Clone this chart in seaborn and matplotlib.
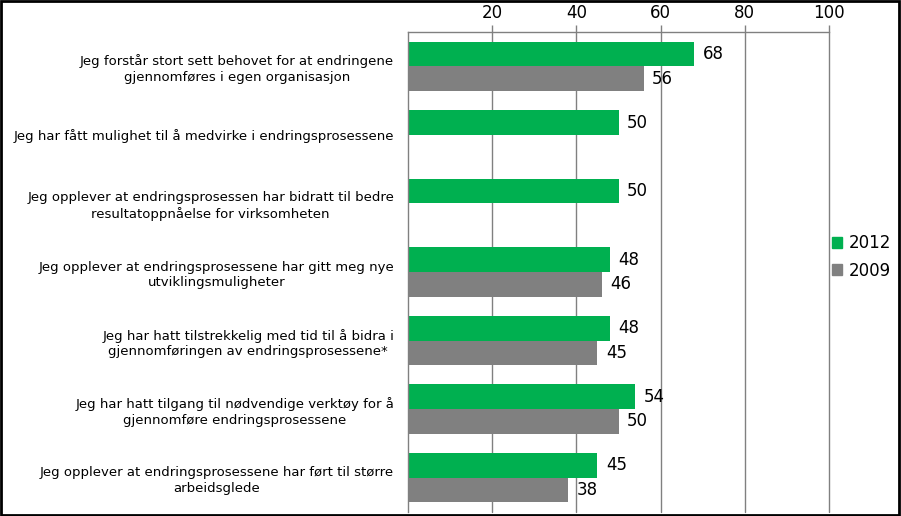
import matplotlib
matplotlib.use("Agg")
import matplotlib.pyplot as plt
import seaborn as sns
import pandas as pd
import numpy as np
from matplotlib.patches import Rectangle
from matplotlib.ticker import FixedLocator

categories = [
    "Jeg forstår stort sett behovet for at endringene\ngjennomføres i egen organisasjon",
    "Jeg har fått mulighet til å medvirke i endringsprosessene",
    "Jeg opplever at endringsprosessen har bidratt til bedre\nresultatoppnåelse for virksomheten",
    "Jeg opplever at endringsprosessene har gitt meg nye\nutviklingsmuligheter",
    "Jeg har hatt tilstrekkelig med tid til å bidra i\ngjennomføringen av endringsprosessene*",
    "Jeg har hatt tilgang til nødvendige verktøy for å\ngjennomføre endringsprosessene",
    "Jeg opplever at endringsprosessene har ført til større\narbeidsglede",
]
values_2012 = [68, 50, 50, 48, 48, 54, 45]
values_2009 = [56, None, None, 46, 45, 50, 38]
series_names = ["2012", "2009"]
x_ticks = [20, 40, 60, 80, 100]

rows = []
for c, a, b in zip(categories, values_2012, values_2009):
    rows.append((c, "2012", a))
    if b is not None:
        rows.append((c, "2009", b))
df = pd.DataFrame(rows, columns=["cat", "year", "val"])

sns.set_style("white")
plt.rcParams["font.family"] = ["DejaVu Sans"]
plt.rcParams["text.color"] = "black"
plt.rcParams["xtick.color"] = "black"
plt.rcParams["ytick.color"] = "black"

fig = plt.figure(figsize=(9.01, 5.16), dpi=100)
ax = fig.add_axes([408/901, 1-512/516, 421/901, 480/516])

sns.barplot(data=df, y="cat", x="val", hue="year", order=categories,
            hue_order=series_names, palette=["#00B050", "#808080"],
            orient="h", width=0.72, errorbar=None, ax=ax, saturation=1,
            legend=True, linewidth=0)

for cont in ax.containers:
    ax.bar_label(cont, fmt="%d", padding=6, fontsize=12, color="black")

ax.set_xlim(0, 100)
ax.set_ylim(len(categories)-0.5, -0.5)
ax.xaxis.tick_top()
ax.set_xticks(x_ticks)
ax.set_xticklabels([str(t) for t in x_ticks], fontsize=12, color="black")
ax.tick_params(axis="x", which="major", length=5, color="#808080", width=1, pad=2, direction="out")
ax.grid(axis="x", color="#808080", linewidth=1)
for gl in ax.get_xgridlines():
    gl.set_clip_on(False)
ax.set_axisbelow(True)

ax.set_yticks(range(len(categories)))
ax.set_yticklabels(categories, fontsize=9.5, ha="right", multialignment="center",
                   linespacing=1.25, color="#000000")
ax.tick_params(axis="y", which="major", length=0, pad=10)
ax.yaxis.set_minor_locator(FixedLocator(np.arange(-0.5, len(categories), 1.0)))
ax.tick_params(axis="y", which="minor", length=8, color="#808080", width=1, direction="out")
ax.set_xlabel("")
ax.set_ylabel("")

for s in ["right", "bottom"]:
    ax.spines[s].set_visible(False)
for s in ["left", "top"]:
    ax.spines[s].set_color("#808080")
    ax.spines[s].set_linewidth(1)

ax.legend_.remove()
handles = [Rectangle((0, 0), 1, 1, color="#00B050"), Rectangle((0, 0), 1, 1, color="#808080")]
fig.legend(handles, series_names, loc="center left", bbox_to_anchor=(824/901, 1-257/516),
           frameon=False, fontsize=12, handlelength=0.6, handleheight=0.6,
           handletextpad=0.4, labelspacing=0.55, borderpad=0)

fig.patches.append(Rectangle((0.001, 0.002), 0.997, 0.996, transform=fig.transFigure,
                             fill=False, edgecolor="black", linewidth=2))

fig.savefig("out.png", dpi=100)
